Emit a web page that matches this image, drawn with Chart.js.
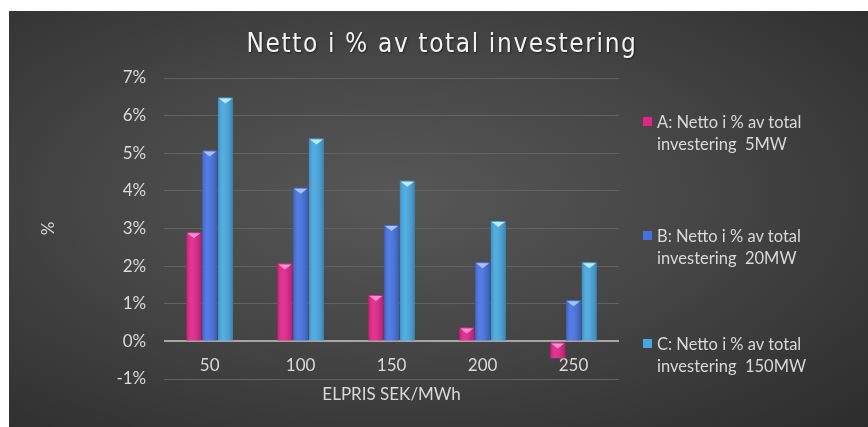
<!DOCTYPE html>
<html>
<head>
<meta charset="utf-8">
<script src="https://cdn.jsdelivr.net/npm/chart.js@4"></script>
<style>
  html, body { margin: 0; padding: 0; background: #fff; }
  #box {
    position: absolute; left: 9px; top: 11px; width: 859px; height: 416px;
    background: radial-gradient(ellipse at 45% 45%, #575757 0%, #464646 45%, #2c2c2c 100%);
    overflow: hidden;
  }
  #chart { position: absolute; left: 0; top: 0; }
  #title { position: absolute; left: 0; width: 866px; top: 17px; text-align: center;
    font-family: 'DejaVu Sans'; font-stretch: condensed; font-size: 26px; letter-spacing: 1.6px;
    color: #f2f2f2; text-shadow: 1px 1px 2px rgba(0,0,0,0.5); }
  .legend { position: absolute; left: 634px; font-family: Lato, sans-serif; font-size: 16.5px;
    color: #d9d9d9; line-height: 22px; }
  .legend .sw { position: absolute; left: 0; top: 6px; width: 9px; height: 9px; }
  .legend .tx { margin-left: 14px; white-space: pre; }
</style>
</head>
<body>
<div id="box">
  <canvas id="chart" width="859" height="416"></canvas>
  <div id="title">Netto i % av total investering</div>
  <div id="legend"></div>
</div>
<script>
// data
const categories = ['50', '100', '150', '200', '250'];
const seriesNames = [
  'A: Netto i % av total\ninvestering  5MW',
  'B: Netto i % av total\ninvestering  20MW',
  'C: Netto i % av total\ninvestering  150MW'
];
const valuesA = [2.9, 2.07, 1.23, 0.37, -0.45];
const valuesB = [5.07, 4.08, 3.09, 2.1, 1.09];
const valuesC = [6.48, 5.39, 4.27, 3.2, 2.1];
const yTicks = [-1, 0, 1, 2, 3, 4, 5, 6, 7];

const colors = ['#e3238a', '#4571e3', '#45a7e0'];
const topColors = ['#ff8fd0', '#a9c2ff', '#b8ecff'];
const legendTops = [100, 214, 322];

// legend (html)
const legendEl = document.getElementById('legend');
seriesNames.forEach((name, i) => {
  const d = document.createElement('div');
  d.className = 'legend';
  d.style.top = legendTops[i] + 'px';
  d.innerHTML = '<div class="sw" style="background:' + colors[i] + '"></div><div class="tx"></div>';
  d.querySelector('.tx').textContent = name;
  legendEl.appendChild(d);
});

// bevel on top of bars
const bevelPlugin = {
  id: 'bevel',
  afterDatasetsDraw(chart) {
    const ctx = chart.ctx;
    chart.data.datasets.forEach((ds, di) => {
      chart.getDatasetMeta(di).data.forEach((bar, i) => {
        const w = bar.width;
        const x0 = bar.x - w / 2, x1 = bar.x + w / 2;
        const neg = ds.data[i] < 0;
        // shading
        const g = ctx.createLinearGradient(x0, 0, x1, 0);
        g.addColorStop(0, 'rgba(0,0,0,0.15)');
        g.addColorStop(0.3, 'rgba(255,255,255,0.08)');
        g.addColorStop(1, 'rgba(0,0,0,0.2)');
        ctx.fillStyle = g;
        ctx.fillRect(x0, Math.min(bar.y, bar.base), w, Math.abs(bar.base - bar.y));
        // top triangle
        const yt = neg ? bar.base : bar.y;
        ctx.fillStyle = topColors[di];
        ctx.beginPath();
        ctx.moveTo(x0 + 1, yt + 1);
        ctx.lineTo(x1 - 1, yt + 1);
        ctx.lineTo(bar.x, yt + 6);
        ctx.closePath();
        ctx.fill();
      });
    });
  }
};

new Chart(document.getElementById('chart'), {
  type: 'bar',
  data: {
    labels: categories,
    datasets: [
      { label: seriesNames[0], data: valuesA, backgroundColor: colors[0] },
      { label: seriesNames[1], data: valuesB, backgroundColor: colors[1] },
      { label: seriesNames[2], data: valuesC, backgroundColor: colors[2] }
    ]
  },
  options: {
    responsive: false,
    animation: false,
    categoryPercentage: 0.52,
    barPercentage: 0.95,
    layout: { padding: { left: 25, right: 249, top: 67, bottom: 48 } },
    plugins: {
      legend: { display: false },
      tooltip: { enabled: false }
    },
    scales: {
      y: {
        min: -1, max: 7,
        afterBuildTicks: axis => { axis.ticks = yTicks.map(v => ({ value: v })); },
        ticks: {
          color: '#d9d9d9',
          font: { family: 'Lato', size: 17 },
          padding: 18,
          callback: v => v + '%'
        },
        grid: {
          color: ctx => ctx.tick && ctx.tick.value === 0 ? '#a6a6a6' : '#626262',
          lineWidth: ctx => ctx.tick && ctx.tick.value === 0 ? 2 : 1,
          drawTicks: false
        },
        border: { display: false },
        title: {
          display: true, text: '%', color: '#d9d9d9',
          font: { family: 'Lato', size: 17 },
          padding: { bottom: 40 }
        }
      },
      x: {
        position: { y: 0 },
        ticks: { color: '#d9d9d9', font: { family: 'Lato', size: 17 }, padding: 14 },
        grid: { display: false, drawTicks: false },
        border: { display: false },
        title: {
          display: true, text: 'ELPRIS SEK/MWh', color: '#d9d9d9',
          font: { family: 'Lato', size: 17 },
          padding: { top: -5, bottom: 0 }
        }
      }
    }
  },
  plugins: [bevelPlugin]
});
</script>
</body>
</html>
